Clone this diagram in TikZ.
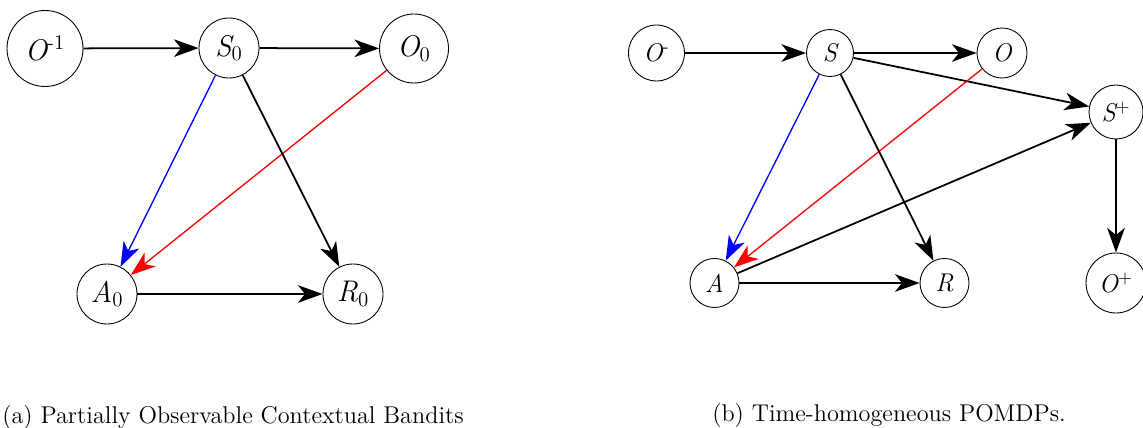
\documentclass[tikz,border=0pt]{standalone}
\usepackage{tikz}
\usetikzlibrary{arrows.meta}

\begin{document}
\begin{tikzpicture}[
    var/.style={circle,draw,line width=0.5pt,inner sep=0pt,minimum size=#1,font=\fontsize{17}{20}\selectfont\itshape},
    varb/.style={var=#1,font=\fontsize{14.6}{17}\selectfont\itshape},
    caption/.style={anchor=base,inner sep=0pt,font=\fontsize{13.8}{16}\selectfont},
    arrow/.style={-{Stealth[length=14pt,width=10pt,inset=4pt]},line width=1pt},
    carrow/.style={arrow,line width=0.75pt}
]
\useasboundingbox (0,0) rectangle (22.86,8.54);
\node[var=1.52cm] (om1) at (0.90,7.57) {O\textsuperscript{\upshape -1}};
\node[var=1.2cm] (s0) at (4.58,7.58) {S\textsubscript{\upshape 0}};
\node[var=1.38cm] (o0) at (8.28,7.57) {O\textsubscript{\upshape 0}};
\node[var=1.2cm] (a0) at (2.14,2.66) {A\textsubscript{\upshape 0}};
\node[var=1.2cm] (r0) at (7.06,2.66) {R\textsubscript{\upshape 0}};
\draw[arrow] (om1) -- (s0);
\draw[arrow] (s0) -- (o0);
\draw[carrow,blue] (s0) -- (a0);
\draw[carrow,red] (o0) -- (a0);
\draw[arrow] (s0) -- (r0);
\draw[arrow] (a0) -- (r0);
\node[caption] (capa) at (4.66,0.08) {(a) Partially Observable Contextual Bandits};

\node[varb=1.12cm] (om) at (13.13,7.48) {O\textsuperscript{\upshape -}};
\node[varb=0.94cm] (s) at (16.60,7.48) {S};
\node[varb=1.0cm] (o) at (20.04,7.48) {O};
\node[varb=1.08cm] (sp) at (22.32,6.30) {S\textsuperscript{\upshape +}};
\node[varb=0.98cm] (a) at (14.29,2.88) {A};
\node[varb=0.98cm] (r) at (18.89,2.88) {R};
\node[varb=1.2cm] (op) at (22.32,2.88) {O\textsuperscript{\upshape +}};
\draw[arrow] (om) -- (s);
\draw[arrow] (s) -- (o);
\draw[arrow] (s) -- (sp);
\draw[carrow,blue] (s) -- (a);
\draw[carrow,red] (o) -- (a);
\draw[arrow] (s) -- (r);
\draw[arrow] (a) -- (sp);
\draw[arrow] (a) -- (r);
\draw[arrow] (sp) -- (op);
\node[caption] (capb) at (17.78,0.12) {(b) Time-homogeneous POMDPs.};
\end{tikzpicture}
\end{document}
